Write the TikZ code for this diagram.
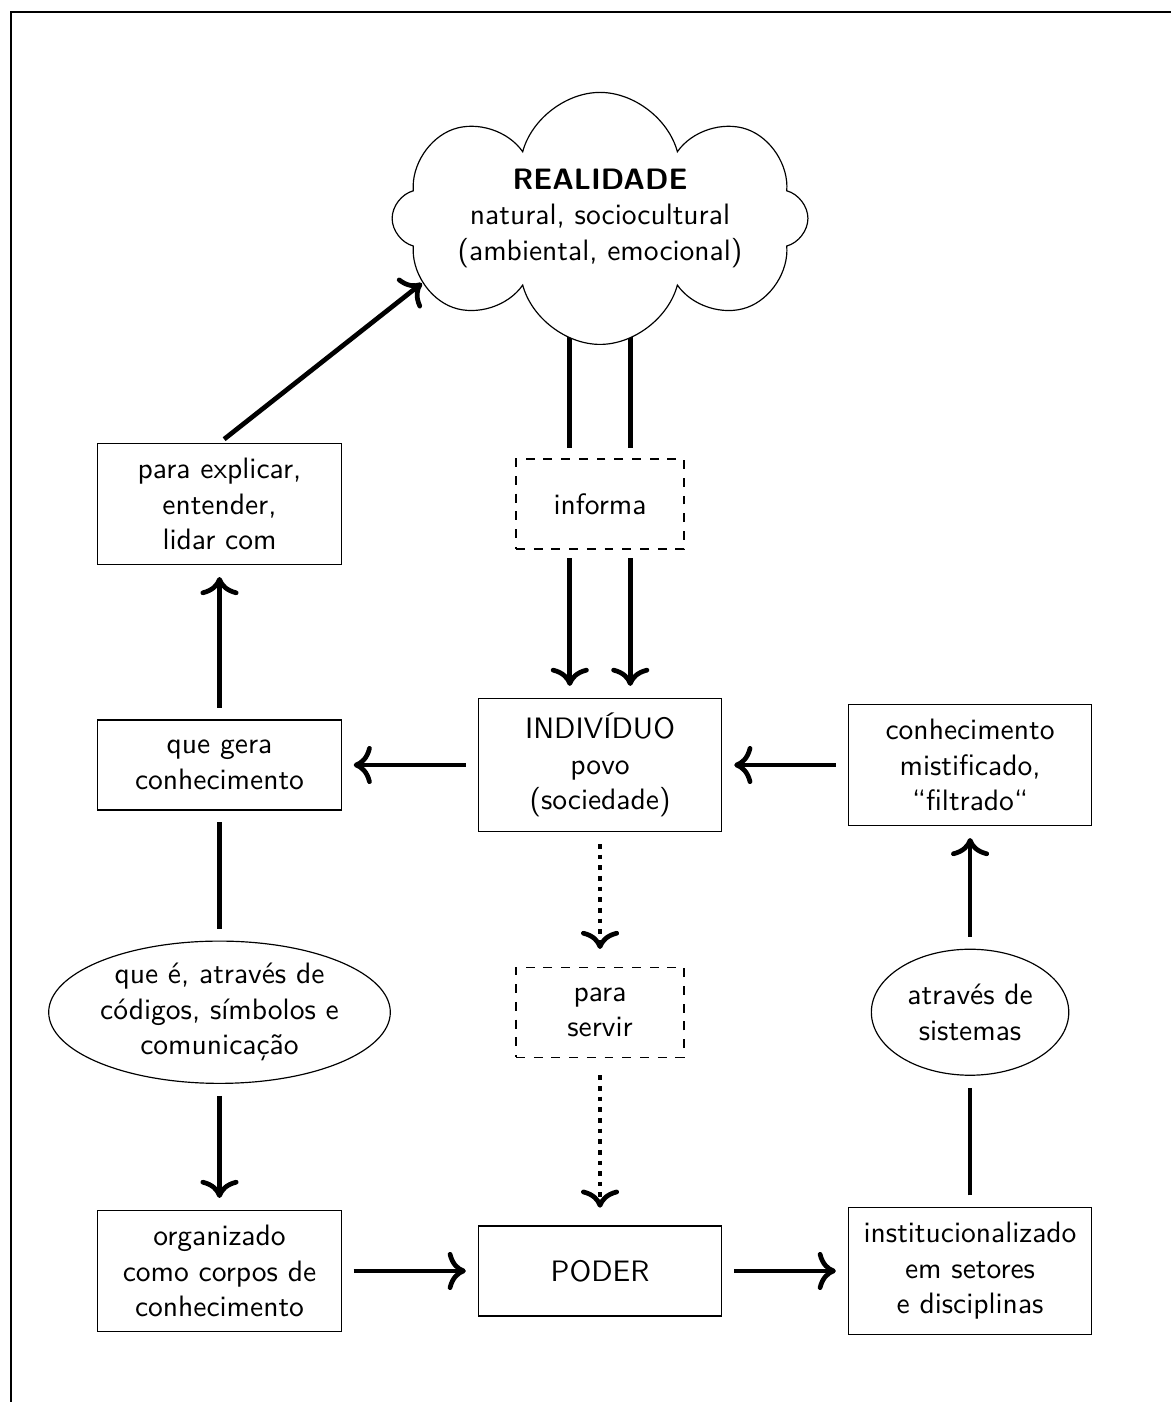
\documentclass[tikz,border=0pt]{standalone}
\usepackage{tikz}
\usetikzlibrary{arrows.meta,shapes.geometric,shapes.symbols,backgrounds}

\begin{document}
\begin{tikzpicture}[font=\sffamily,>={To[scale=1.2]},
    caixa/.style={draw,thin,align=center,minimum width=2.9cm,minimum height=1.07cm,inner ysep=5pt},
    tracejada/.style={draw,thin,dashed,align=center,minimum width=2cm,minimum height=1.07cm},
    bolha/.style={draw,thin,ellipse,align=center,inner sep=0.5pt},
    seta/.style={ultra thick,->,shorten >=4pt,shorten <=4pt},
    traco/.style={ultra thick,shorten >=4pt,shorten <=4pt}]
  \useasboundingbox (0,0) rectangle (13.94,-16.69);
  \draw[thick] (0.131,-16.69) -- (0.131,-0.143) -- (13.94,-0.143);

  \node[cloud,draw,thin,fill=white,cloud puffs=8,cloud ignores aspect,inner sep=0pt,minimum width=4.95cm,minimum height=3.0cm,align=center] (realidade) at (7.143,-2.6)
    {\textbf{REALIDADE}\\natural, sociocultural\\(ambiental, emocional)};

  \node[caixa] (explicar) at (2.613,-6.0) {para explicar,\\entender,\\lidar com};
  \node[tracejada] (informa) at (7.143,-6.0) {informa};

  \node[caixa] (quegera) at (2.613,-9.107) {que gera\\conhecimento};
  \node[caixa] (individuo) at (7.143,-9.107) {INDIVÍDUO\\povo\\(sociedade)};
  \node[caixa] (mistificado) at (11.548,-9.107) {conhecimento\\mistificado,\\“filtrado“};

  \node[bolha] (codigos) at (2.613,-12.05) {que é, através de\\códigos, símbolos e\\comunicação};
  \node[tracejada] (servir) at (7.143,-12.05) {para\\servir};
  \node[bolha,minimum width=2.35cm,minimum height=1.5cm] (sistemas) at (11.548,-12.05) {através de\\sistemas};

  \node[caixa] (organizado) at (2.613,-15.13) {organizado\\como corpos de\\conhecimento};
  \node[caixa] (poder) at (7.143,-15.13) {PODER};
  \node[caixa] (instit) at (11.548,-15.13) {institucionalizado\\em setores\\e disciplinas};

  % realidade informa o individuo
  \begin{pgfonlayer}{background}
    \draw[ultra thick,shorten >=3.5pt] ([xshift=-0.36cm]realidade.center) -- ([xshift=-0.36cm]informa.north);
    \draw[ultra thick,shorten >=3.5pt] ([xshift=0.36cm]realidade.center) -- ([xshift=0.36cm]informa.north);
  \end{pgfonlayer}
  \draw[seta,shorten <=3pt] ([xshift=-0.36cm]informa.south) -- ([xshift=-0.36cm]individuo.north);
  \draw[seta,shorten <=3pt] ([xshift=0.36cm]informa.south) -- ([xshift=0.36cm]individuo.north);

  % ciclo
  \draw[seta] (individuo) -- (quegera);
  \draw[seta] (quegera) -- (explicar);
  \draw[ultra thick,->,shorten <=2pt] (explicar.north) -- (realidade.200);
  \draw[traco] (quegera) -- (codigos);
  \draw[seta] (codigos) -- (organizado);
  \draw[seta] (organizado) -- (poder);
  \draw[seta] (poder) -- (instit);
  \draw[traco] (instit) -- (sistemas);
  \draw[seta] (sistemas) -- (mistificado);
  \draw[seta] (mistificado) -- (individuo);
  \draw[seta,dotted,shorten >=6pt] (individuo) -- (servir);
  \draw[seta,dotted,shorten >=6pt,shorten <=6pt] (servir) -- (poder);
\end{tikzpicture}
\end{document}
